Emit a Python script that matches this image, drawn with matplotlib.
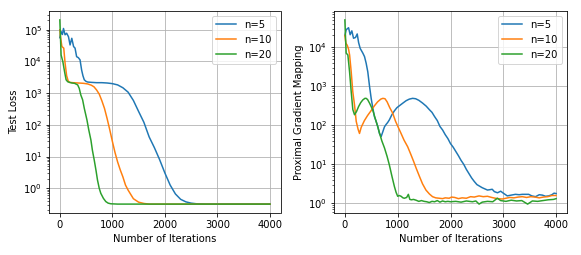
import numpy as np
import matplotlib
matplotlib.use("Agg")
import matplotlib.pyplot as plt

# ---------------- Data (y stored as log10) ----------------
labels = ["n=5", "n=10", "n=20"]

# Left panel: Test Loss
loss_n5_x = [0, 25, 50, 70, 100, 130, 165, 195, 228, 262, 290, 320, 352, 385, 415, 440, 466, 500,
             530, 600, 700, 800, 900, 1000, 1100, 1200, 1300, 1400, 1500, 1600, 1700, 1800, 1900,
             2000, 2100, 2200, 2300, 2400, 2500, 2600, 2800, 3000, 3500, 4000]
loss_n5_log = [4.75, 4.94, 4.85, 5.04, 4.84, 4.89, 4.78, 4.52, 4.73, 4.47, 4.42, 4.15, 4.12, 4.05,
               3.73, 3.55, 3.42, 3.37, 3.35, 3.34, 3.33, 3.33, 3.32, 3.30, 3.26, 3.17, 3.03, 2.77,
               2.42, 2.08, 1.62, 1.28, 0.90, 0.48, 0.10, -0.18, -0.35, -0.43, -0.47, -0.49, -0.50,
               -0.50, -0.50, -0.50]

loss_n10_x = [0, 15, 40, 75, 100, 130, 160, 190, 250, 350, 450, 530, 600, 650, 700, 750, 800, 850,
              900, 950, 1000, 1050, 1100, 1150, 1200, 1250, 1300, 1400, 1500, 1600, 1700, 2000, 4000]
loss_n10_log = [5.0, 4.75, 4.47, 4.42, 3.95, 3.55, 3.38, 3.34, 3.33, 3.32, 3.31, 3.29, 3.25, 3.20,
                3.10, 2.97, 2.76, 2.52, 2.20, 1.85, 1.48, 1.13, 0.83, 0.58, 0.36, 0.10, -0.06,
                -0.33, -0.44, -0.48, -0.50, -0.50, -0.50]

loss_n20_x = [0, 13, 25, 57, 90, 120, 150, 183, 230, 280, 340, 370, 400, 434, 466, 517, 550, 592,
              620, 655, 690, 717, 750, 780, 830, 875, 920, 970, 1100, 4000]
loss_n20_log = [5.31, 4.73, 4.20, 4.00, 3.68, 3.42, 3.36, 3.34, 3.32, 3.31, 3.26, 3.15, 2.94, 2.79,
                2.52, 2.15, 1.85, 1.52, 1.20, 0.89, 0.55, 0.26, 0.00, -0.16, -0.32, -0.42, -0.47,
                -0.49, -0.50, -0.50]

# Right panel: Proximal Gradient Mapping
pgm_n5_x = [0, 26, 70, 100, 132, 164, 202, 234, 260, 290, 340, 372, 403, 434, 466, 498, 528, 560,
            592, 625, 655, 687, 720, 750, 780, 810, 843, 890, 938, 985, 1032, 1100, 1160, 1220,
            1283, 1340, 1400, 1470, 1540, 1600, 1650, 1700, 1750, 1800, 1850, 1900, 1950, 2000,
            2050, 2100, 2150, 2200, 2250, 2300, 2350, 2400, 2450, 2500, 2550, 2600, 2650, 2700,
            2750, 2790, 2830, 2890, 2950, 3000, 3075, 3150, 3230, 3300, 3360, 3420, 3480, 3540,
            3610, 3680, 3740, 3800, 3860, 3920, 3960, 4000]
pgm_n5_log = [4.30, 4.45, 4.50, 4.32, 4.42, 4.23, 4.25, 4.34, 4.12, 3.97, 3.85, 3.76, 3.59, 3.37,
              3.01, 2.69, 2.45, 2.22, 2.10, 1.96, 1.79, 1.71, 1.84, 1.96, 2.02, 2.07, 2.14, 2.27,
              2.37, 2.45, 2.50, 2.57, 2.63, 2.67, 2.69, 2.68, 2.64, 2.57, 2.49, 2.40, 2.33, 2.22,
              2.12, 1.97, 1.88, 1.76, 1.66, 1.53, 1.44, 1.33, 1.22, 1.10, 1.00, 0.87, 0.76, 0.65,
              0.56, 0.48, 0.44, 0.40, 0.37, 0.34, 0.35, 0.36, 0.30, 0.27, 0.31, 0.26, 0.19, 0.21,
              0.23, 0.22, 0.23, 0.23, 0.23, 0.19, 0.17, 0.22, 0.21, 0.18, 0.19, 0.22, 0.26, 0.25]

pgm_n10_x = [0, 20, 45, 70, 90, 120, 150, 183, 215, 250, 277, 310, 370, 430, 500, 560, 620, 680,
             720, 760, 800, 850, 906, 960, 1010, 1064, 1120, 1189, 1250, 1300, 1350, 1409, 1470,
             1535, 1600, 1660, 1720, 1787, 1850, 1900, 1975, 2020, 2080, 2150, 2220, 2300, 2380,
             2450, 2540, 2620, 2700, 2780, 2850, 2900, 2980, 3050, 3120, 3200, 3280, 3360, 3440,
             3520, 3600, 3680, 3760, 3840, 3920, 4000]
pgm_n10_log = [4.30, 4.10, 4.05, 3.95, 3.80, 3.37, 2.86, 2.52, 2.10, 1.90, 1.79, 1.95, 2.12, 2.25,
               2.38, 2.50, 2.60, 2.67, 2.69, 2.68, 2.60, 2.45, 2.31, 2.10, 1.95, 1.79, 1.62, 1.45,
               1.25, 1.08, 0.90, 0.70, 0.50, 0.34, 0.24, 0.17, 0.14, 0.13, 0.12, 0.14, 0.13, 0.16,
               0.15, 0.12, 0.14, 0.13, 0.17, 0.16, 0.19, 0.17, 0.18, 0.15, 0.13, 0.12, 0.11, 0.13,
               0.15, 0.14, 0.16, 0.17, 0.15, 0.17, 0.16, 0.14, 0.16, 0.17, 0.20, 0.20]

pgm_n20_x = [0, 13, 25, 57, 89, 120, 151, 183, 220, 260, 300, 340, 380, 403, 430, 470, 528, 580,
             623, 660, 700, 750, 800, 843, 890, 938, 970, 1000, 1030, 1064, 1100, 1126, 1170,
             1202, 1230, 1260, 1300, 1347, 1400, 1450, 1500, 1550, 1598, 1650, 1700, 1750, 1800,
             1850, 1900, 1950, 2000, 2100, 2200, 2300, 2415, 2480, 2541, 2600, 2700, 2800, 2887,
             2950, 3050, 3150, 3250, 3350, 3460, 3550, 3650, 3750, 3850, 3950, 4000]
pgm_n20_log = [4.70, 4.23, 3.85, 3.80, 3.37, 2.86, 2.40, 2.27, 2.35, 2.48, 2.58, 2.65, 2.69, 2.69,
               2.66, 2.56, 2.39, 2.15, 1.96, 1.78, 1.60, 1.42, 1.20, 0.98, 0.70, 0.43, 0.28, 0.18,
               0.20, 0.18, 0.14, 0.13, 0.15, 0.23, 0.10, 0.09, 0.10, 0.08, 0.05, 0.07, 0.05, 0.04,
               0.02, 0.05, 0.04, 0.07, 0.03, 0.06, 0.04, 0.05, 0.04, 0.05, 0.03, 0.06, 0.04, 0.06,
               -0.02, 0.03, 0.05, 0.04, 0.13, 0.07, 0.05, 0.08, 0.06, 0.07, -0.02, 0.06, 0.05,
               0.07, 0.09, 0.10, 0.12]

xticks = [0, 1000, 2000, 3000, 4000]

# ---------------- Plot ----------------
W, H = 581, 255
fig = plt.figure(figsize=(W / 72, H / 72), dpi=72)

ax1 = fig.add_axes([49.3 / W, (H - 213.3) / H, (280.5 - 49.3) / W, (213.3 - 10.7) / H])
ax2 = fig.add_axes([334.3 / W, (H - 213.3) / H, (566.7 - 334.3) / W, (213.3 - 10.7) / H])

colors = ["#1f77b4", "#ff7f0e", "#2ca02c"]

left_series = [(loss_n5_x, loss_n5_log), (loss_n10_x, loss_n10_log), (loss_n20_x, loss_n20_log)]
right_series = [(pgm_n5_x, pgm_n5_log), (pgm_n10_x, pgm_n10_log), (pgm_n20_x, pgm_n20_log)]

for ax, series, ylabel in [(ax1, left_series, "Test Loss"),
                           (ax2, right_series, "Proximal Gradient Mapping")]:
    for (xs, ys), lab, c in zip(series, labels, colors):
        ax.plot(xs, np.power(10.0, ys), color=c, lw=1.5, label=lab)
    ax.set_yscale("log")
    ax.set_xticks(xticks)
    ax.grid(True, which="major", color="#b0b0b0", lw=0.8)
    ax.set_xlabel("Number of Iterations")
    ax.set_ylabel(ylabel)
    ax.legend(loc="upper right")

fig.savefig("out.png", dpi=72)
